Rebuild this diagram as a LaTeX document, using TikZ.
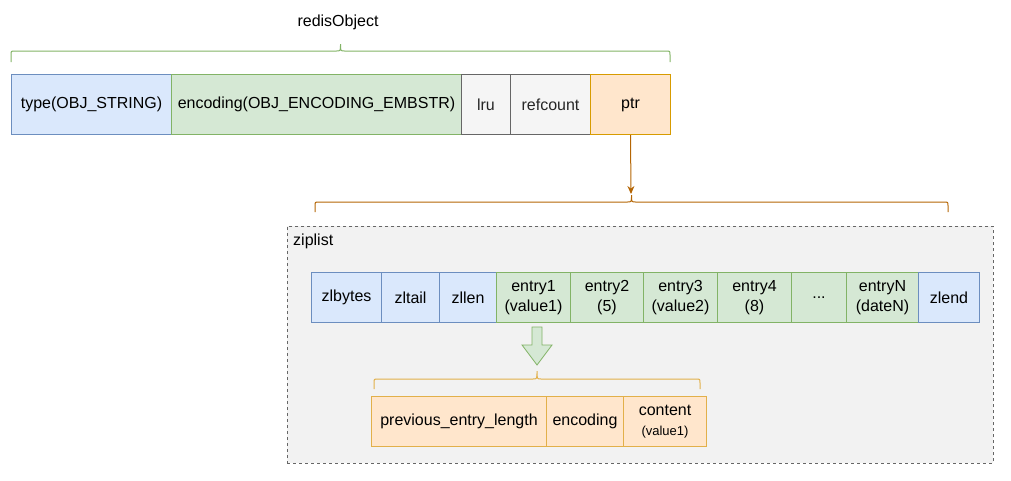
\documentclass[tikz,border=0pt]{standalone}
\usepackage{fontspec}
\usetikzlibrary{arrows.meta}
\setmainfont{Liberation Sans}
\definecolor{bluef}{HTML}{DAE8FC}
\definecolor{blues}{HTML}{6C8EBF}
\definecolor{greenf}{HTML}{D5E8D4}
\definecolor{greens}{HTML}{82B366}
\definecolor{grayf}{HTML}{F5F5F5}
\definecolor{grays}{HTML}{666666}
\definecolor{orangef}{HTML}{FFE6CC}
\definecolor{oranges}{HTML}{D79B00}
\definecolor{browns}{HTML}{B46504}
\definecolor{golds}{HTML}{E2B04A}
\definecolor{contf}{HTML}{F2F2F2}
\newcommand\hbr[6]{%
  \draw[#6, line width=1pt]
    (#1,#4) -- (#1,#3+4) .. controls (#1,#3) .. (#1+4,#3)
    -- ({(#1+#2)/2-4},#3) .. controls ({(#1+#2)/2},#3) .. ({(#1+#2)/2},#5)
    .. controls ({(#1+#2)/2},#3) .. ({(#1+#2)/2+4},#3)
    -- (#2-4,#3) .. controls (#2,#3) .. (#2,#3+4) -- (#2,#4);}
\tikzset{
  cell/.style={draw, line width=1pt, inner sep=0pt, anchor=north west, align=center,
    font=\fontsize{16}{20}\selectfont},
  bluecell/.style={cell, fill=bluef, draw=blues},
  greencell/.style={cell, fill=greenf, draw=greens},
  graycell/.style={cell, fill=grayf, draw=grays, text=black!85},
  orangecell/.style={cell, fill=orangef, draw=oranges},
  goldcell/.style={cell, fill=orangef, draw=golds},
  lbl/.style={inner sep=0pt, font=\fontsize{16}{20}\selectfont},
}
\begin{document}
\begin{tikzpicture}[x=1pt,y=-1pt]
\useasboundingbox (0,0) rectangle (1011,480);
% container
\node[draw=grays, fill=contf, line width=0.8pt, dash pattern=on 3pt off 3pt,
  minimum width=706pt, minimum height=237pt, inner sep=0pt, anchor=north west]
  (zipbox) at (287,226) {};
\node[lbl, anchor=west] (ziplbl) at (293,241) {ziplist};
% title
\node[lbl] (title) at (338,22) {redisObject};
\hbr{11}{670}{51}{62}{44}{greens}
% top row
\node[bluecell, minimum width=160pt, minimum height=60pt] (type) at (11,74) {type(OBJ\_STRING)};
\node[greencell, minimum width=290pt, minimum height=60pt] (enc) at (171,74) {encoding(OBJ\_ENCODING\_EMBSTR)};
\node[graycell, minimum width=49pt, minimum height=60pt] (lru) at (461,74) {lru};
\node[graycell, minimum width=80pt, minimum height=60pt] (ref) at (510,74) {refcount};
\node[orangecell, minimum width=80pt, minimum height=60pt] (ptr) at (590,74) {ptr};
% brown brace and arrow
\hbr{315}{948}{202}{212}{195}{browns}
\coordinate (btip) at (631,194);
\draw[browns, line width=1pt, -{Stealth[length=8pt,width=7pt]}] (ptr.south) -- (btip);
% ziplist row
\node[bluecell, minimum width=70pt, minimum height=50pt] (zlbytes) at (311,272) {zlbytes};
\node[bluecell, minimum width=58pt, minimum height=50pt] (zltail) at (381,272) {zltail};
\node[bluecell, minimum width=57pt, minimum height=50pt] (zllen) at (439,272) {zllen};
\node[greencell, minimum width=74pt, minimum height=50pt] (e1) at (496,272) {entry1\\(value1)};
\node[greencell, minimum width=73pt, minimum height=50pt] (e2) at (570,272) {entry2\\(5)};
\node[greencell, minimum width=74pt, minimum height=50pt] (e3) at (643,272) {entry3\\(value2)};
\node[greencell, minimum width=74pt, minimum height=50pt] (e4) at (717,272) {entry4\\(8)};
\node[greencell, minimum width=55pt, minimum height=50pt] (edots) at (791,272) {...};
\node[greencell, minimum width=72pt, minimum height=50pt] (eN) at (846,272) {entryN\\(dateN)};
\node[bluecell, minimum width=61pt, minimum height=50pt] (zlend) at (918,272) {zlend};
% block arrow
\draw[draw=greens, fill=greenf, line width=0.8pt]
  (532,327) -- (542,327) -- (542,345) -- (552,345) -- (537,365) -- (522,345) -- (532,345) -- cycle;
% gold brace
\hbr{374}{700}{379}{389}{371}{golds}
% entry detail
\node[goldcell, minimum width=175pt, minimum height=50pt] (prev) at (371,396) {previous\_entry\_length};
\node[goldcell, minimum width=77pt, minimum height=50pt] (encd) at (546,396) {encoding};
\node[goldcell, minimum width=83pt, minimum height=50pt] (cont) at (623,396)
  {content\\[0pt]{\fontsize{13}{16}\selectfont (value1)}};
\end{tikzpicture}
\end{document}
